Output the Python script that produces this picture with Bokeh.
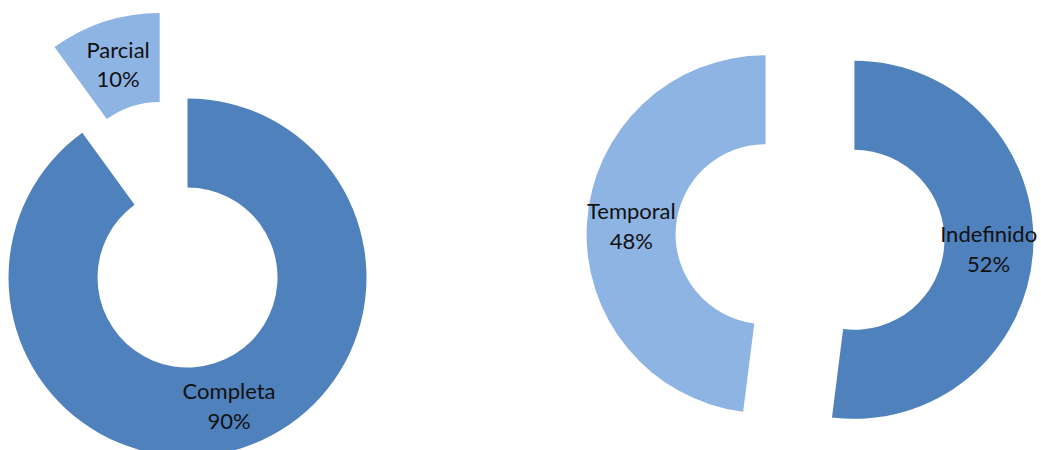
import numpy as np
from bokeh.plotting import figure
from bokeh.models import Range1d, ColumnDataSource
from bokeh.embed import file_html
from bokeh.resources import INLINE
from bokeh.core.properties import value

# ---- data ----
left_labels = ["Completa", "Parcial"]
left_values = [90, 10]
left_colors = ["#4F81BD", "#8EB4E3"]
left_explode = [0, 90]

right_labels = ["Indefinido", "Temporal"]
right_values = [52, 48]
right_colors = ["#4F81BD", "#8EB4E3"]
right_explode = [44.5, 44.5]

# ---- layout (pixel-like data units) ----
W, H = 1041, 450
OUTER, INNER = 179, 90


def donut_source(labels, values, colors, explode, cx, cy):
    vals = np.array(values, dtype=float)
    frac = vals / vals.sum()
    ends = np.cumsum(frac) * 360.0
    starts = ends - frac * 360.0
    mids = (starts + ends) / 2.0
    xs, ys, sa, ea, lx, ly, txt = [], [], [], [], [], [], []
    for i in range(len(vals)):
        m = np.radians(mids[i])
        ox = cx + explode[i] * np.sin(m)
        oy = cy + explode[i] * np.cos(m)
        xs.append(ox)
        ys.append(oy)
        # clockwise-from-top degrees -> bokeh anticlockwise-from-x radians
        sa.append(np.radians(90 - ends[i]))
        ea.append(np.radians(90 - starts[i]))
        rm = (OUTER + INNER) / 2.0
        lx.append(ox + rm * np.sin(m))
        ly.append(oy + rm * np.cos(m))
        txt.append(f"{labels[i]}\n{round(frac[i] * 100):.0f}%")
    return ColumnDataSource(dict(x=xs, y=ys, start=sa, end=ea, color=list(colors),
                                 lx=lx, ly=ly, text=txt))


p = figure(width=W, height=H, output_backend="svg", toolbar_location=None,
           x_range=Range1d(0, W), y_range=Range1d(-H, 0), min_border=0)
p.axis.visible = False
p.grid.visible = False
p.outline_line_color = None
p.background_fill_color = "white"
p.border_fill_color = "white"

for src in [
    donut_source(left_labels, left_values, left_colors, left_explode, 187, -277),
    donut_source(right_labels, right_values, right_colors, right_explode, 809.5, -236.5),
]:
    p.annular_wedge(x="x", y="y", inner_radius=INNER, outer_radius=OUTER,
                    start_angle="start", end_angle="end", direction="anticlock",
                    fill_color="color", line_color=None, source=src)
    p.text(x="lx", y="ly", text="text", source=src, text_align="center",
           text_baseline="middle", text_font=value("Lato"), text_font_size="22px",
           text_color="#111111", text_line_height=1.1)

open("out.html", "w").write(file_html(p, INLINE))
